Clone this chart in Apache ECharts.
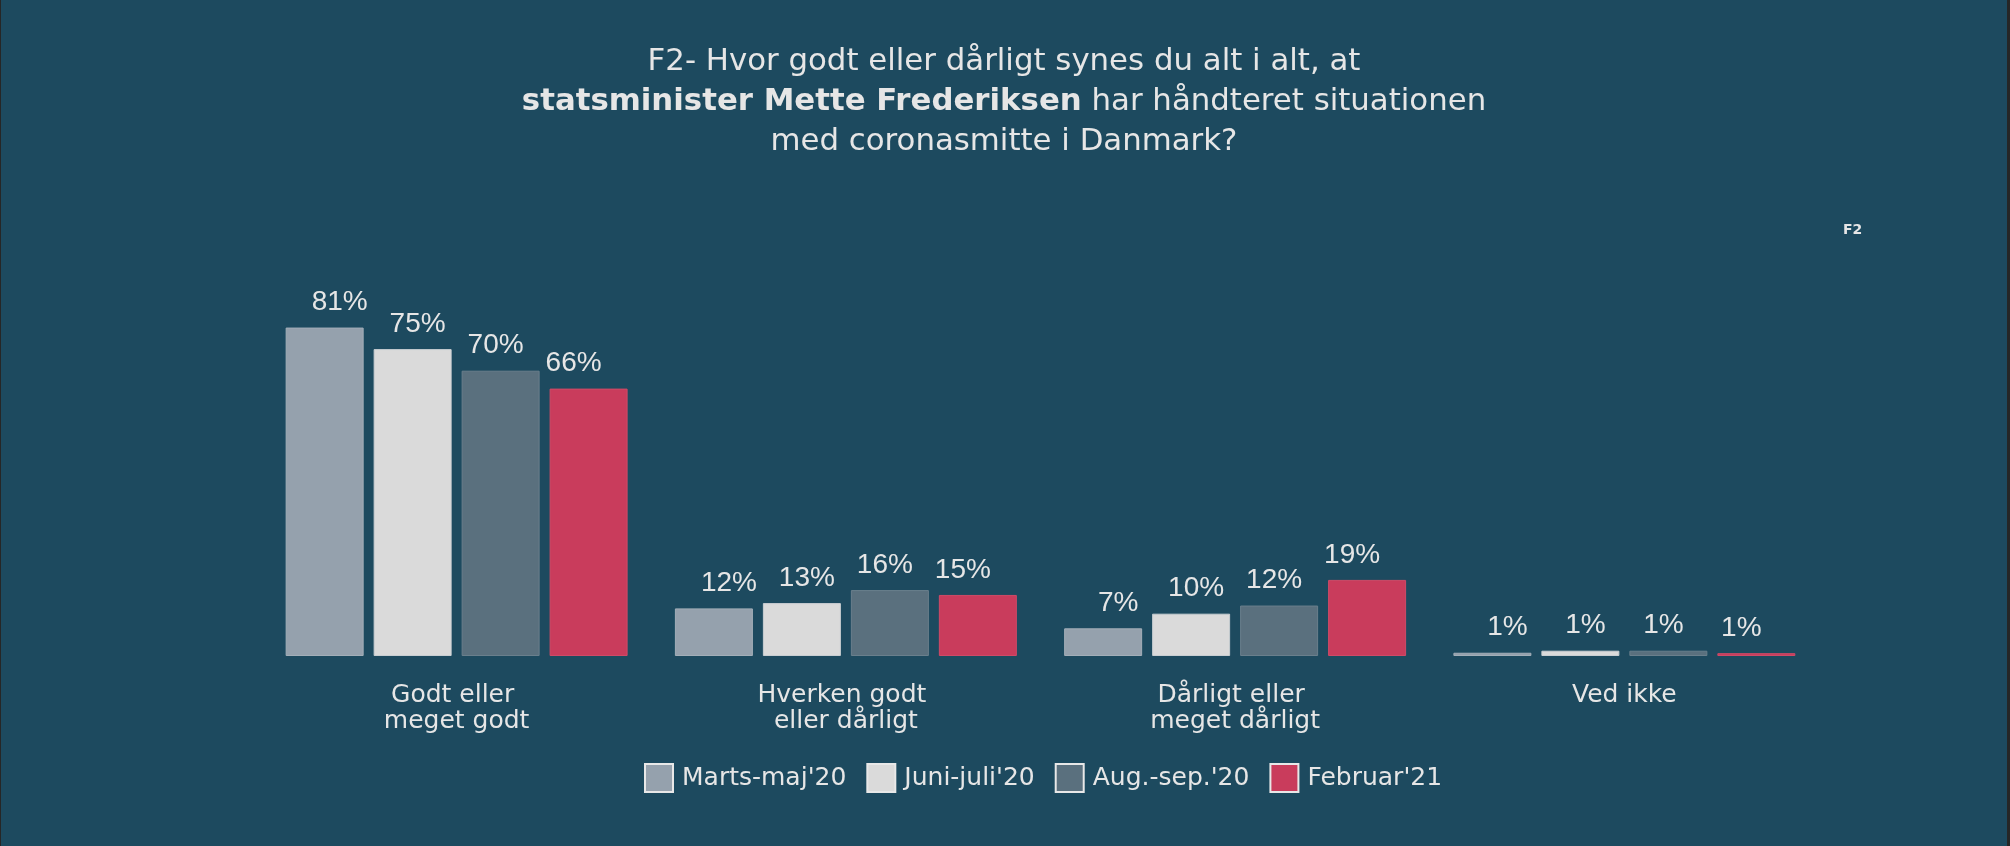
<!DOCTYPE html>
<html>
<head>
<meta charset="utf-8">
<script src="https://cdn.jsdelivr.net/npm/echarts@6/dist/echarts.min.js"></script>
<style>
  html, body { margin: 0; padding: 0; background: #262626; }
  #chart { position: absolute; left: 1px; top: 0; width: 2006px; height: 846px; }
</style>
</head>
<body>
<div id="chart"></div>
<script>
const categories = ['Godt eller \nmeget godt', 'Hverken godt \neller dårligt', 'Dårligt eller \nmeget dårligt', 'Ved ikke'];
const seriesNames = ["Marts-maj'20", "Juni-juli'20", "Aug.-sep.'20", "Februar'21"];
const martsMaj20 = [80.7, 11.7, 6.8, 0.8];
const juniJuli20 = [75.4, 13.0, 10.4, 1.3];
const augSep20 = [70.1, 16.2, 12.4, 1.3];
const februar21 = [65.7, 15.0, 18.7, 0.7];

const seriesValues = [martsMaj20, juniJuli20, augSep20, februar21];
const colors = ['#95a1ad', '#dadada', '#5a707e', '#c93c5c'];
const borders = ['#a3aeb8', '#c9ced2', '#6a7f8c', '#cf4a67'];
const labelShift = [15, 5, -5, -15];

const chart = echarts.init(document.getElementById('chart'));
const txt = '#e6e6e6';

chart.setOption({
  backgroundColor: '#1d4a5f',
  animation: false,
  title: {
    text: 'F2- Hvor godt eller dårligt synes du alt i alt, at\n{b|statsminister Mette Frederiksen} har håndteret situationen\nmed coronasmitte i Danmark?',
    left: 'center',
    top: 42,
    padding: 0,
    textStyle: {
      fontFamily: 'DejaVu Sans',
      fontSize: 30.8,
      fontWeight: 'normal',
      color: txt,
      lineHeight: 40,
      rich: {
        b: { fontFamily: 'DejaVu Sans', fontSize: 30.8, fontWeight: 'bold', color: txt, lineHeight: 40 }
      }
    }
  },
  graphic: [{
    type: 'text',
    left: 1842,
    top: 223,
    style: { text: 'F2', fill: txt, font: 'bold 14px "DejaVu Sans"' }
  }],
  legend: {
    data: seriesNames,
    left: 643,
    top: 763,
    padding: 0,
    itemWidth: 28,
    itemHeight: 28,
    itemGap: 20,
    icon: 'rect',
    itemStyle: { borderColor: '#e8e8e8', borderWidth: 2 },
    textStyle: { color: txt, fontFamily: 'DejaVu Sans', fontSize: 25, padding: [0, 0, 0, 4] }
  },
  grid: { left: 261, right: 188, top: 249, bottom: 190, containLabel: false },
  xAxis: {
    type: 'category',
    data: categories,
    axisLine: { show: false },
    axisTick: { show: false },
    axisLabel: {
      color: txt,
      fontFamily: 'DejaVu Sans',
      fontSize: 25,
      lineHeight: 26,
      margin: 26,
      interval: 0
    }
  },
  yAxis: {
    type: 'value',
    min: 0,
    max: 100,
    show: false,
    splitLine: { show: false }
  },
  series: seriesNames.map((name, i) => ({
    name: name,
    type: 'bar',
    data: seriesValues[i],
    barWidth: 78,
    barGap: '12.8%',
    itemStyle: { color: colors[i], borderColor: borders[i], borderWidth: 1 },
    label: {
      show: true,
      position: 'top',
      distance: 11,
      offset: [labelShift[i], 0],
      color: txt,
      fontFamily: 'Liberation Sans',
      fontSize: 28,
      formatter: p => Math.round(p.value) + '%'
    }
  }))
});
</script>
</body>
</html>
